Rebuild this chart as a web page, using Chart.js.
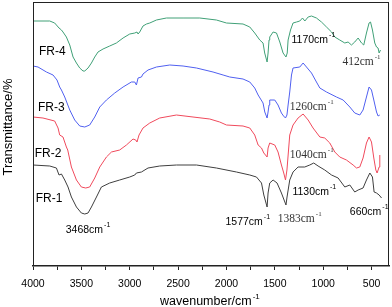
<!DOCTYPE html>
<html>
<head>
<meta charset="utf-8">
<script src="https://cdn.jsdelivr.net/npm/chart.js@4/dist/chart.umd.min.js"></script>
<style>
  html, body { margin: 0; padding: 0; background: #fff; }
  #wrap { width: 392px; height: 307px; }
</style>
</head>
<body>
<div id="wrap"><canvas id="ir"></canvas></div>
<script>
// FTIR spectra, [wavenumber, transmittance (arbitrary, offset per sample)]
const fr4 = [[4000,245],[3827,245],[3776,243],[3731,238],[3706,236],[3690,234],[3655,229],[3620,221],[3586,209],[3551,203],[3517,198],[3483,195],[3465,195],[3431,198],[3396,203],[3362,209],[3328,214],[3276,217],[3207,220],[3138,223],[3069,228],[3000,232],[2948,233],[2925,234],[2914,232],[2897,234],[2863,240],[2827,242],[2793,243],[2724,246],[2621,248],[2449,248],[2276,248],[2104,246],[2000,243],[1829,242],[1759,239],[1708,233],[1656,226],[1622,223],[1605,213],[1580,204],[1570,213],[1560,226],[1553,229],[1518,234],[1483,233],[1449,224],[1415,213],[1385,209],[1372,213],[1363,226],[1338,236],[1312,243],[1276,244],[1242,245],[1214,248],[1190,245],[1156,249],[1121,250],[1070,248],[1018,244],[966,239],[914,234],[880,229],[829,226],[777,223],[743,224],[708,221],[674,224],[639,228],[604,223],[581,221],[553,233],[526,243],[511,244],[491,236],[467,223],[449,219],[433,218],[422,213],[408,216]];
const fr3 = [[4000,200],[3948,199],[3861,194],[3793,191],[3752,186],[3724,179],[3706,176],[3672,169],[3620,156],[3569,146],[3517,140],[3465,139],[3414,141],[3362,149],[3310,159],[3241,166],[3155,173],[3069,179],[2983,184],[2948,184],[2931,181],[2914,188],[2879,189],[2863,192],[2811,196],[2724,199],[2586,201],[2449,200],[2310,198],[2139,194],[2035,191],[1966,189],[1829,187],[1759,184],[1708,178],[1673,171],[1622,163],[1604,154],[1580,148],[1570,154],[1560,161],[1553,166],[1501,166],[1467,161],[1432,153],[1410,150],[1390,148],[1375,151],[1363,161],[1346,174],[1328,191],[1312,198],[1242,199],[1208,203],[1173,199],[1121,193],[1070,184],[1035,178],[966,174],[863,169],[794,166],[725,159],[674,153],[622,151],[588,156],[553,169],[526,179],[501,176],[477,166],[449,154],[433,150],[415,151]];
const fr2 = [[4000,149],[3897,148],[3776,145],[3741,138],[3724,131],[3690,129],[3655,119],[3641,116],[3603,99],[3551,86],[3500,79],[3455,78],[3414,79],[3362,88],[3310,99],[3241,109],[3189,114],[3104,116],[3034,121],[2966,127],[2938,126],[2925,124],[2904,131],[2863,138],[2793,143],[2690,148],[2517,151],[2346,149],[2173,147],[2070,144],[2000,141],[1829,140],[1759,138],[1708,131],[1673,121],[1638,118],[1614,113],[1580,109],[1570,118],[1553,123],[1501,121],[1467,114],[1432,101],[1408,93],[1390,86],[1375,96],[1346,131],[1312,141],[1260,148],[1208,152],[1156,146],[1105,138],[1035,129],[984,128],[932,123],[880,114],[829,109],[760,106],[691,101],[656,98],[622,99],[588,108],[553,123],[526,129],[501,124],[477,108],[456,96],[443,93],[422,99],[415,111]];
const fr1 = [[4000,101],[3827,100],[3758,98],[3731,91],[3706,92],[3672,86],[3638,79],[3603,69],[3551,59],[3500,53],[3465,52],[3431,53],[3396,59],[3344,69],[3293,79],[3207,83],[3104,86],[3000,89],[2948,91],[2931,93],[2879,94],[2811,98],[2690,100],[2517,101],[2310,101],[2104,98],[1897,94],[1759,91],[1690,89],[1638,83],[1614,71],[1580,59],[1570,73],[1553,83],[1518,86],[1477,83],[1432,73],[1385,61],[1374,69],[1346,86],[1312,94],[1260,99],[1191,99],[1139,101],[1098,103],[1053,100],[984,96],[914,91],[846,88],[777,79],[725,81],[674,74],[639,76],[588,78],[553,86],[518,93],[491,89],[474,74],[449,73],[422,71],[397,68]];

const sampleNames = ['FR-1', 'FR-2', 'FR-3', 'FR-4'];
const sampleLabelWn = [3972, 3982, 3948, 3938];
const sampleLabelT = [67, 112, 158, 214];

// band assignments: text, wavenumber and level where the label starts, serif or not
const bandText = ['3468', '1577', '1383', '1130', '660', '1040', '1260', '1170', '412'];
const bandWn = [3662, 2010, 1470, 1318, 725, 1346, 1346, 1328, 801];
const bandT = [36, 44, 47, 74, 54, 111, 159, 226, 204];
const bandSerif = [false, false, true, false, false, true, true, false, true];

// x ticks every 250, labelled every 500
const xTicks = [4000, 3750, 3500, 3250, 3000, 2750, 2500, 2250, 2000, 1750, 1500, 1250, 1000, 750, 500];

const labelPlugin = {
  id: 'irLabels',
  afterDraw(chart) {
    const { ctx, chartArea: a, scales: { x, y } } = chart;
    ctx.save();
    ctx.strokeStyle = '#222';
    ctx.lineWidth = 1;
    ctx.strokeRect(a.left + 0.5, a.top + 0.5, a.right - a.left - 1, a.bottom - a.top - 1);

    ctx.fillStyle = '#000';
    ctx.textBaseline = 'middle';
    ctx.textAlign = 'left';
    ctx.font = '12px "Liberation Sans", Arial, sans-serif';
    sampleNames.forEach((n, i) => {
      ctx.fillText(n, x.getPixelForValue(sampleLabelWn[i]), y.getPixelForValue(sampleLabelT[i]));
    });

    bandText.forEach((t, i) => {
      const px = x.getPixelForValue(bandWn[i]);
      const py = y.getPixelForValue(bandT[i]);
      const fam = bandSerif[i] ? '"Liberation Serif", "Times New Roman", serif' : '"Liberation Sans", Arial, sans-serif';
      ctx.fillStyle = bandSerif[i] ? '#333' : '#000';
      ctx.font = (bandSerif[i] ? '11.5px ' : '10.5px ') + fam;
      const s = t + 'cm';
      ctx.fillText(s, px, py);
      const w = ctx.measureText(s).width;
      ctx.font = '7px ' + fam;
      ctx.fillText('-1', w + px + 1, py - 5);
    });

    // axis titles
    ctx.fillStyle = '#000';
    ctx.textBaseline = 'alphabetic';
    ctx.font = '12.5px "Liberation Sans", Arial, sans-serif';
    const xt = 'wavenumber/cm';
    const xw = ctx.measureText(xt).width;
    ctx.fillText(xt, 160, 305);
    ctx.font = '8px "Liberation Sans", Arial, sans-serif';
    ctx.fillText('-1', 160 + xw + 1, 299);

    ctx.translate(11.5, 127);
    ctx.rotate(-Math.PI / 2);
    ctx.textAlign = 'center';
    ctx.font = '13px "Liberation Sans", Arial, sans-serif';
    ctx.fillText('Transmittance/%', 0, 0);
    ctx.restore();
  }
};

function series(data, color) {
  return { data: data, borderColor: color, borderWidth: 1, pointRadius: 0, tension: 0, fill: false };
}

new Chart(document.getElementById('ir'), {
  type: 'line',
  data: {
    datasets: [
      series(fr1, '#3f3f3f'),
      series(fr2, '#f04a5c'),
      series(fr3, '#5060f0'),
      series(fr4, '#40a077')
    ]
  },
  options: {
    responsive: true,
    maintainAspectRatio: false,
    animation: false,
    layout: { padding: { left: 33, right: 3, top: 2, bottom: 0 } },
    plugins: { legend: { display: false }, tooltip: { enabled: false } },
    scales: {
      x: {
        type: 'linear',
        reverse: true,
        min: 320,
        max: 4000,
        afterBuildTicks: s => { s.ticks = xTicks.map(v => ({ value: v })); },
        afterFit: s => { s.height = 41; },
        ticks: {
          autoSkip: false,
          maxRotation: 0,
          padding: 8,
          color: '#000',
          font: { family: '"Liberation Sans", Arial, sans-serif', size: 10.5 },
          callback: v => (v % 500 === 0 ? String(v) : '')
        },
        grid: { drawOnChartArea: false, drawTicks: true, tickLength: 4, tickColor: '#222' },
        border: { display: true, color: '#222', width: 1.5 }
      },
      y: {
        display: false,
        min: 0,
        max: 264
      }
    }
  },
  plugins: [labelPlugin]
});
</script>
</body>
</html>
